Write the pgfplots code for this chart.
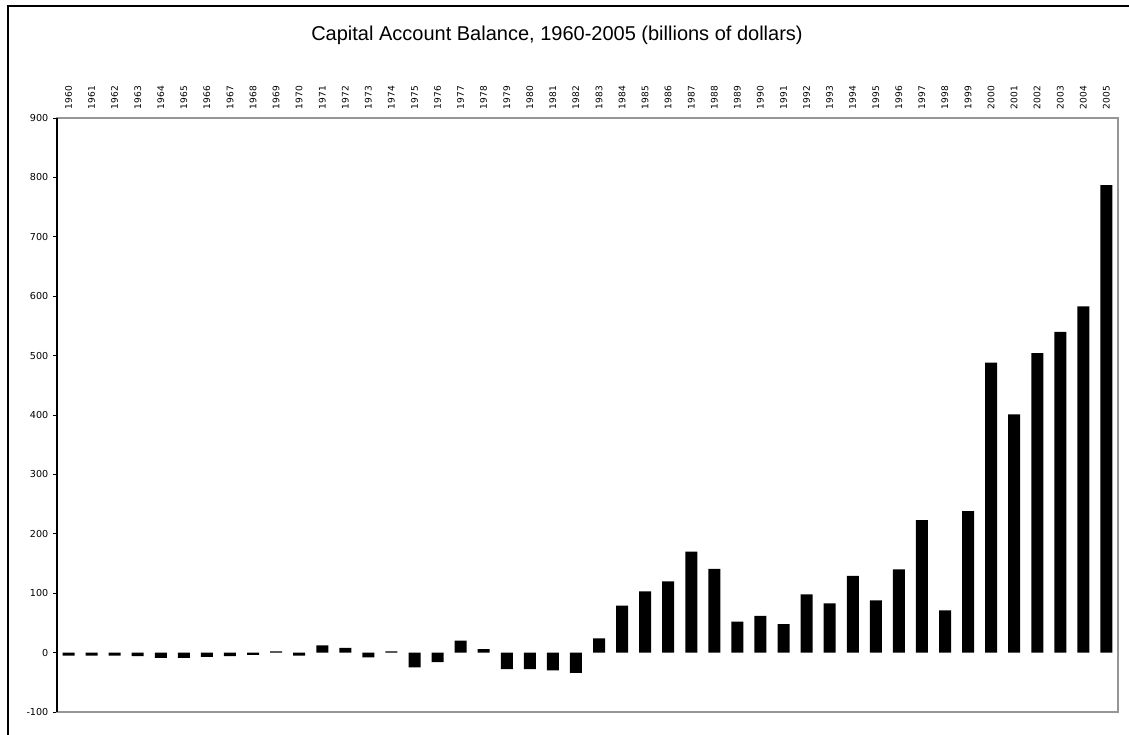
\documentclass[border=0pt]{standalone}
\usepackage{fontspec}
\setmainfont{Liberation Sans}
\newfontfamily\dejavu{DejaVu Sans}
\usepackage{pgfplots}
\pgfplotsset{compat=1.18}
\definecolor{bordergray}{RGB}{150,150,150}

% capital account balance, billions of dollars
\pgfplotstableread{
year val
1960 -5
1961 -5
1962 -5
1963 -6
1964 -9
1965 -9
1966 -7
1967 -6
1968 -4
1969 2
1970 -5
1971 12
1972 8
1973 -8
1974 2
1975 -25
1976 -16
1977 20
1978 6
1979 -28
1980 -28
1981 -30
1982 -34
1983 24
1984 79
1985 103
1986 120
1987 170
1988 141
1989 52
1990 62
1991 48
1992 98
1993 83
1994 129
1995 88
1996 140
1997 223
1998 71
1999 238
2000 488
2001 401
2002 504
2003 540
2004 583
2005 787
}\capdata

\begin{document}
\begin{tikzpicture}
\useasboundingbox (0,0) rectangle (846.75pt,551.25pt);
\draw[line width=1.1pt] (6pt,-10pt) -- (6pt,546.75pt) -- (870pt,546.75pt);
\node[font=\fontsize{15}{18}\selectfont] at (417.75pt,524.5pt)
  {Capital Account Balance, 1960-2005 (billions of dollars)};
\begin{axis}[
    at={(42.75pt,17.25pt)}, anchor=south west,
    scale only axis, width=795.75pt, height=445.5pt,
    ybar, bar width=9pt,
    ymin=-100, ymax=900, ytick={-100,0,...,900},
    xmin=1959.5, xmax=2005.5, xtick={1960,...,2005},
    xticklabel pos=upper,
    /pgf/number format/1000 sep={},
    /pgf/number format/assume math mode=true,
    axis line style={draw=bordergray, line width=0.9pt},
    xtick style={draw=none},
    ytick pos=left, tick align=outside, major tick length=3pt,
    ytick style={black, line width=0.6pt},
    xticklabel style={rotate=90, anchor=west, font=\dejavu\fontsize{6.8}{8}\selectfont},
    yticklabel style={font=\dejavu\fontsize{7.2}{8}\selectfont},
    clip=false,
]
\addplot[fill=black, draw=none] table[x=year, y=val] {\capdata};
\draw[black, line width=1.1pt] (rel axis cs:0,0) -- (rel axis cs:0,1);
\end{axis}
\end{tikzpicture}
\end{document}
